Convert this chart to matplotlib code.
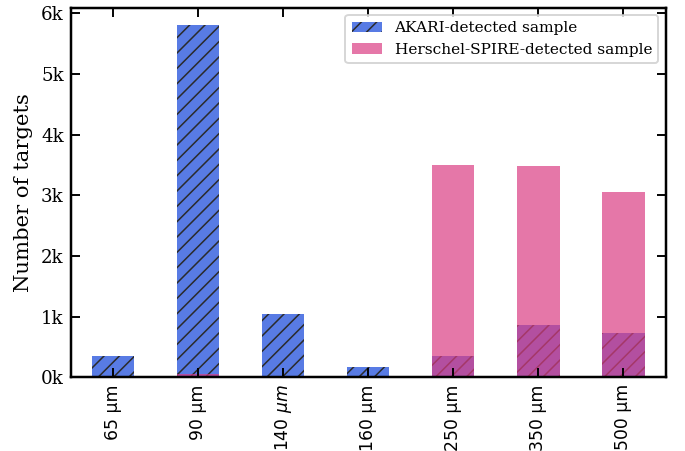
import numpy as np
import matplotlib
matplotlib.use("Agg")
import matplotlib.pyplot as plt
from matplotlib.ticker import FuncFormatter

# ======================================================
# Number of targets per band
# ======================================================
BANDS = ["65 μm", "90 μm", r"140 $\mu m$", "160 μm", "250 μm", "350 μm", "500 μm"]
AKARI_COUNTS = [350, 5800, 1040, 180, 350, 860, 740]
SPIRE_COUNTS = [0, 50, 0, 0, 3500, 3480, 3060]

AKARI_LABEL = "AKARI-detected sample"
SPIRE_LABEL = "Herschel-SPIRE-detected sample"

OUT_PATH = "out.png"


def plot_counts(out_path):
    plt.rcParams["font.family"] = "DejaVu Serif"
    plt.rcParams["hatch.color"] = "#2b2b2b"
    plt.rcParams["hatch.linewidth"] = 0.8

    dpi = 138
    fig = plt.figure(figsize=(685 / dpi, 451 / dpi), dpi=dpi)
    ax = fig.add_axes([0.103, 0.163, 0.869, 0.820])

    x = np.arange(len(BANDS))
    ax.bar(x, AKARI_COUNTS, width=0.5, color="royalblue", alpha=0.88,
           hatch="///", linewidth=0, label=AKARI_LABEL)
    ax.bar(x, SPIRE_COUNTS, width=0.5, color="#da3d83", alpha=0.7,
           linewidth=0, label=SPIRE_LABEL)

    # x from the category layout, y autoscaled (5% headroom)
    ax.set_xlim(-0.5, len(BANDS) - 0.5)
    ax.set_ylim(0, max(AKARI_COUNTS) * 1.05)
    ax.set_yticks(np.arange(0, 6001, 1000))
    ax.yaxis.set_major_formatter(FuncFormatter(lambda v, pos: f"{int(v / 1000)}k"))
    ax.set_xticks(x)
    ax.set_xticklabels(BANDS, rotation=90, family="DejaVu Sans", fontsize=9)
    ax.tick_params(axis="y", labelsize=9.5)
    ax.tick_params(direction="in", length=4.5, width=1.0, top=True, right=True)

    for sp in ax.spines.values():
        sp.set_linewidth(1.3)

    ax.set_ylabel("Number of targets", fontsize=11)
    ax.legend(loc="upper right", fontsize=8)

    fig.savefig(out_path, dpi=dpi)
    plt.close(fig)


def main():
    plot_counts(OUT_PATH)


if __name__ == "__main__":
    main()
